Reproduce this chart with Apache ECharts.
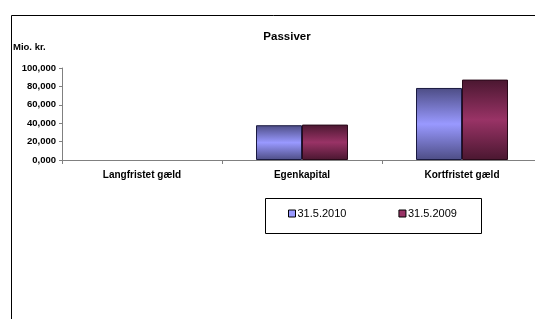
<!DOCTYPE html>
<html>
<head>
<meta charset="utf-8">
<script src="https://cdn.jsdelivr.net/npm/echarts@6/dist/echarts.min.js"></script>
<style>
  html, body { margin: 0; padding: 0; background: #fff; }
  #chart { width: 535px; height: 319px; }
</style>
</head>
<body>
<div id="chart"></div>
<script>
// data (Mio. kr.)
var categories = ['Langfristet gæld', 'Egenkapital', 'Kortfristet gæld'];
var seriesNames = ['31.5.2010', '31.5.2009'];
var values2010 = [0, 37800, 78300];
var values2009 = [0, 38500, 87400];
var yTickLabels = ['0,000', '20,000', '40,000', '60,000', '80,000', '100,000'];

var chart = echarts.init(document.getElementById('chart'));

function barGradient(dark, light) {
    return new echarts.graphic.LinearGradient(0, 0, 0, 1, [
        { offset: 0, color: dark },
        { offset: 0.5, color: light },
        { offset: 1, color: dark }
    ]);
}

// zero bars have no visible outline in the original
function barData(values) {
    return values.map(function (v) {
        return v === 0 ? { value: v, itemStyle: { borderWidth: 0 } } : v;
    });
}

var font = 'Liberation Sans, Arial, sans-serif';

var option = {
    animation: false,
    title: {
        text: 'Passiver',
        left: 282,
        textAlign: 'center',
        top: 26,
        textStyle: { fontFamily: font, fontSize: 11.5, fontWeight: 'bold', color: '#000' }
    },
    graphic: [
        {
            type: 'rect',
            shape: { x: 11.5, y: 15.5, width: 600, height: 400 },
            style: { fill: null, stroke: '#000', lineWidth: 1 },
            silent: true
        },
        {
            type: 'rect',
            shape: { x: 265.5, y: 198.5, width: 216, height: 35 },
            style: { fill: null, stroke: '#000', lineWidth: 1 },
            silent: true
        },
        {
            type: 'text',
            left: 13,
            top: 42,
            style: { text: 'Mio. kr.', fontFamily: font, fontSize: 9.5, fontWeight: 'bold', fill: '#000' }
        }
    ],
    legend: {
        left: 288,
        top: 208,
        padding: 0,
        itemGap: 52,
        itemWidth: 7,
        itemHeight: 7,
        icon: 'rect',
        data: [
            { name: seriesNames[0], itemStyle: { color: '#9999ff', borderColor: '#000', borderWidth: 1 } },
            { name: seriesNames[1], itemStyle: { color: '#993366', borderColor: '#000', borderWidth: 1 } }
        ],
        textStyle: { fontFamily: font, fontSize: 11, color: '#000', padding: [0, 0, 0, -3] }
    },
    grid: {
        left: 62,
        top: 68,
        width: 480,
        height: 92,
        outerBoundsMode: 'none'
    },
    xAxis: {
        type: 'category',
        data: categories,
        axisLine: { lineStyle: { color: '#808080', width: 1 } },
        axisTick: { show: true, lineStyle: { color: '#808080' }, length: 4 },
        axisLabel: {
            fontFamily: font, fontSize: 10, fontWeight: 'bold', color: '#000', margin: 10
        }
    },
    yAxis: {
        type: 'value',
        min: 0,
        max: 100000,
        interval: 20000,
        axisLine: { show: true, lineStyle: { color: '#808080', width: 1 } },
        axisTick: { show: true, lineStyle: { color: '#808080' }, length: 3 },
        splitLine: { show: false },
        axisLabel: {
            fontFamily: font, fontSize: 9.5, fontWeight: 'bold', color: '#000', margin: 6,
            formatter: function (v) { return yTickLabels[Math.round(v / 20000)]; }
        }
    },
    series: [
        {
            name: seriesNames[0],
            type: 'bar',
            data: barData(values2010),
            barWidth: 46,
            barGap: '0%',
            itemStyle: { color: barGradient('#4d4d85', '#9999ff'), borderColor: '#1a1a40', borderWidth: 1 }
        },
        {
            name: seriesNames[1],
            type: 'bar',
            data: barData(values2009),
            barWidth: 46,
            barGap: '0%',
            itemStyle: { color: barGradient('#4a1730', '#993366'), borderColor: '#2a0a1a', borderWidth: 1 }
        }
    ]
};

chart.setOption(option);
</script>
</body>
</html>
